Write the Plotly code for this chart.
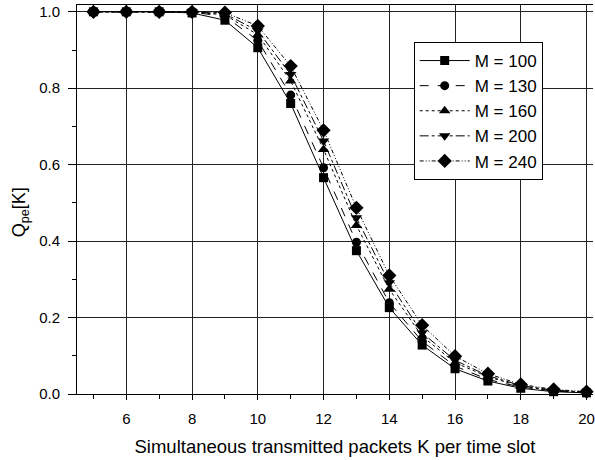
import plotly.graph_objects as go

K = [5, 6, 7, 8, 9, 10, 11, 12, 13, 14, 15, 16, 17, 18, 19, 20]
labels = ["M = 100", "M = 130", "M = 160", "M = 200", "M = 240"]
q_m100 = [1.0, 1.0, 1.0, 0.997, 0.978, 0.906, 0.760, 0.566, 0.375, 0.226, 0.128, 0.066, 0.034, 0.015, 0.006, 0.003]
q_m130 = [1.0, 1.0, 1.0, 0.999, 0.988, 0.925, 0.782, 0.592, 0.397, 0.239, 0.138, 0.073, 0.038, 0.018, 0.008, 0.003]
q_m160 = [1.0, 1.0, 1.0, 0.999, 0.992, 0.940, 0.819, 0.640, 0.441, 0.274, 0.151, 0.082, 0.045, 0.020, 0.009, 0.004]
q_m200 = [1.0, 1.0, 1.0, 1.0, 0.995, 0.950, 0.836, 0.662, 0.461, 0.291, 0.160, 0.088, 0.048, 0.022, 0.010, 0.005]
q_m240 = [1.0, 1.0, 1.0, 1.0, 0.998, 0.963, 0.858, 0.690, 0.487, 0.310, 0.180, 0.099, 0.053, 0.025, 0.012, 0.006]
series = [q_m100, q_m130, q_m160, q_m200, q_m240]
symbols = ["square", "circle", "triangle-up", "triangle-down", "diamond"]
dashes = ["solid", "dash", "dot", "dashdot", "4px,2px,1px,2px,1px,2px"]
sizes = [9, 9, 10, 10, 11]

FONT = "Liberation Sans, Arial, sans-serif"
L, T, PW, PH = 77, 5, 518, 389

fig = go.Figure()
for name, ys, sym, d, s in zip(labels, series, symbols, dashes, sizes):
    fig.add_trace(go.Scatter(
        x=K, y=ys, name=name, mode="lines+markers",
        line=dict(color="black", width=1, dash=d),
        marker=dict(symbol=sym, size=s, color="black"),
        cliponaxis=False,
    ))

fig.update_layout(
    width=595, height=460,
    margin=dict(l=L, r=0, t=T, b=460 - T - PH),
    paper_bgcolor="white", plot_bgcolor="white",
    font=dict(family=FONT, color="black", size=15),
    showlegend=True,
    legend=dict(
        x=(415 - L) / PW, y=(T + PH - 42) / PH, xanchor="left", yanchor="top",
        bordercolor="black", borderwidth=1, bgcolor="white",
        font=dict(size=17, family=FONT), tracegroupgap=0,
        itemwidth=50,
    ),
    xaxis=dict(
        range=[4.5, 4.5 + PW / 33], tickmode="array",
        tickvals=[6, 8, 10, 12, 14, 16, 18, 20],
        ticktext=["6", "8", "10", "12", "14", "16", "18", "20"],
        ticks="outside", ticklen=5, tickcolor="black",
        minor=dict(tickvals=[5, 7, 9, 11, 13, 15, 17, 19], ticks="outside", ticklen=4, tickcolor="black", showgrid=False),
        showgrid=True, gridcolor="#222222", gridwidth=1,
        showline=True, linecolor="black", linewidth=1, mirror=True,
        zeroline=False, tickfont=dict(size=15),
        ticklabeloverflow="allow", ticklabelstandoff=6,
        title=dict(text="Simultaneous transmitted packets K per time slot", font=dict(size=18.5), standoff=14),
    ),
    yaxis=dict(
        range=[0, PH / 382.2], tickmode="array",
        tickvals=[0, 0.2, 0.4, 0.6, 0.8, 1.0],
        ticktext=["0.0", "0.2", "0.4", "0.6", "0.8", "1.0"],
        ticks="outside", ticklen=8, tickcolor="black",
        minor=dict(tickvals=[0.1, 0.3, 0.5, 0.7, 0.9], ticks="outside", ticklen=4, tickcolor="black", showgrid=False),
        showgrid=True, gridcolor="#222222", gridwidth=1,
        showline=True, linecolor="black", linewidth=1, mirror=False,
        zeroline=False, tickfont=dict(size=15), ticklabelstandoff=5,
    ),
    annotations=[dict(
        text="Q<sub>pe</sub>[K]", textangle=-90, xref="paper", yref="paper",
        x=-57 / PW, y=(T + PH - 212) / PH, xanchor="center", yanchor="middle",
        showarrow=False, font=dict(size=18, family=FONT),
    )],
)

fig.write_html("out.html")
